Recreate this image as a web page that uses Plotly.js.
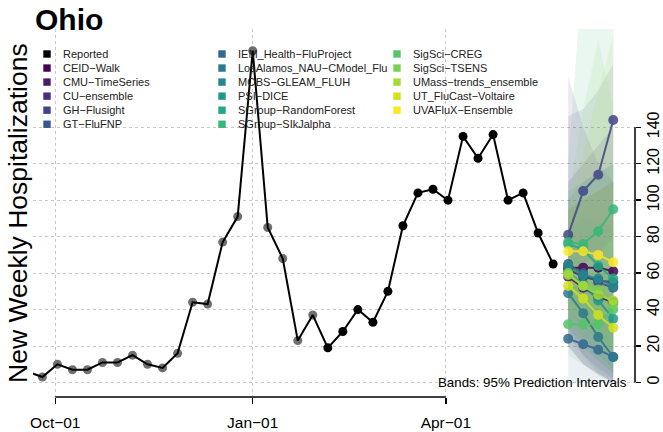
<!DOCTYPE html>
<html><head><meta charset="utf-8">
<script src="https://cdn.plot.ly/plotly-3.0.1.min.js"></script>
<style>html,body{margin:0;padding:0;background:#fff}#chart{width:663px;height:432px}</style>
</head><body><div id="chart"></div>
<script>
// ---------- DATA ----------
const reportedDates = ['2022-09-18','2022-09-25','2022-10-02','2022-10-09','2022-10-16','2022-10-23','2022-10-30',
  '2022-11-06','2022-11-13','2022-11-20','2022-11-27','2022-12-04','2022-12-11','2022-12-18','2022-12-25',
  '2023-01-01','2023-01-08','2023-01-15','2023-01-22','2023-01-29','2023-02-05','2023-02-12','2023-02-19',
  '2023-02-26','2023-03-05','2023-03-12','2023-03-19','2023-03-26','2023-04-02','2023-04-09','2023-04-16',
  '2023-04-23','2023-04-30','2023-05-07','2023-05-14','2023-05-21'];
const reportedValues = [6,3,10,7,7,11,11,15,10,8,16,44,43,77,91,182,85,68,23,37,19,28,40,33,50,86,104,106,100,135,123,136,100,104,82,65];
const firstRecentIndex = 20;

const forecastDates = ['2023-05-28','2023-06-04','2023-06-11','2023-06-18'];
const models = ['CEID\u2212Walk','CMU\u2212TimeSeries','CU\u2212ensemble','GH\u2212Flusight','GT\u2212FluFNP',
  'IEM_Health\u2212FluProject','LosAlamos_NAU\u2212CModel_Flu','MOBS\u2212GLEAM_FLUH','PSI\u2212DICE',
  'SGroup\u2212RandomForest','SGroup\u2212SIkJalpha','SigSci\u2212CREG','SigSci\u2212TSENS',
  'UMass\u2212trends_ensemble','UT_FluCast\u2212Voltaire','UVAFluX\u2212Ensemble'];
const modelColors = ['#440154','#481A6C','#472F7D','#414487','#39568C','#31688E','#2A788E','#23888E',
  '#1F988B','#22A884','#35B779','#54C568','#7AD151','#A5DB36','#D2E21B','#FDE725'];
const forecastMedian = [
  [63,63,63,61],[58,52,47,44],[62,58,56,55],[81,105,114,144],[65,60,55,52],
  [24,21,18,14],[49,38,25,14],[64,59,57,53],[60,54,45,35],[76,73,64,57],
  [77,76,83,95],[32,32,32,40],[60,53,51,43],[59,53,48,45],[53,46,37,30],[72,72,70,66]];
const forecastLower = [
  [20,10,4,0],[25,15,8,2],[20,10,5,0],[55,65,70,80],[30,20,12,5],
  [0,0,0,0],[30,15,5,0],[40,30,25,18],[35,25,15,8],[45,35,25,18],
  [50,40,35,30],[15,10,5,2],[30,20,12,5],[35,25,18,10],[40,32,24,18],[50,45,40,35]];
const forecastUpper = [
  [110,120,130,140],[95,100,105,110],[168,140,120,110],[146,150,160,175],[100,110,115,120],
  [55,60,60,60],[70,65,55,45],[95,100,105,110],[85,90,88,85],[105,110,115,120],
  [120,230,280,320],[50,60,70,85],[100,150,188,150],[95,125,160,190],[70,62,55,48],[95,100,105,110]];

const xTickVals = ['2022-10-01','2023-01-01','2023-04-01'];
const xTickText = ['Oct\u221201','Jan\u221201','Apr\u221201'];
const yTickVals = [0,20,40,60,80,100,120,140];

// ---------- LAYOUT GEOMETRY ----------
const W = 663, H = 432, mL = 33, mR = 28, mT = 29, mB = 35;
const pw = W - mL - mR, ph = H - mT - mB;
const px2paperX = p => (p - mL) / pw;
const px2paperY = p => (H - mB - p) / ph;
const dayMs = 864e5;
const jan = Date.UTC(2023,0,1);
const fmt = ms => new Date(ms).toISOString().replace('T',' ').replace('Z','');
const xRange = [fmt(jan - 102.38*dayMs), fmt(jan + 178.14*dayMs)];
const yRange = [-7.95, 193.9];

function rgba(hex, a){
  const n = parseInt(hex.slice(1),16);
  return 'rgba(' + (n>>16&255) + ',' + (n>>8&255) + ',' + (n&255) + ',' + a + ')';
}

const traces = [];
// bands
models.forEach((m,i)=>{
  traces.push({
    x: forecastDates.concat(forecastDates.slice().reverse()),
    y: forecastUpper[i].concat(forecastLower[i].slice().reverse()),
    type:'scatter', mode:'lines', fill:'toself', fillcolor: rgba(modelColors[i],0.105),
    line:{width:0}, hoverinfo:'skip', showlegend:false
  });
});
// reported points then line
traces.push({
  x: reportedDates, y: reportedValues, type:'scatter', mode:'markers', showlegend:false,
  marker:{size:9, color: reportedValues.map((v,i)=> i < firstRecentIndex ? '#6f6f6f' : '#000000')}
});
traces.push({
  x: reportedDates, y: reportedValues, type:'scatter', mode:'lines', showlegend:false,
  line:{color:'#000', width:2}
});
// model forecasts
models.forEach((m,i)=>{
  traces.push({
    x: forecastDates, y: forecastMedian[i], type:'scatter', mode:'lines+markers', name:m,
    showlegend:false, opacity:0.85,
    line:{color:modelColors[i], width:2}, marker:{color:modelColors[i], size:10}
  });
});

// manual legend (column-major, 6 rows)
const legendNames = ['Reported'].concat(models);
const legendColors = ['#000000'].concat(modelColors);
const colSquareX = [47, 222, 397];
const rowY0 = 54, rowDy = 14.05, sq = 7.4, textGap = 15;
const shapes = [];
const annotations = [];
legendNames.forEach((name,k)=>{
  const c = Math.floor(k/6), r = k%6;
  const cx = colSquareX[c], cy = rowY0 + r*rowDy;
  shapes.push({type:'rect', xref:'paper', yref:'paper',
    x0:px2paperX(cx-sq/2), x1:px2paperX(cx+sq/2), y0:px2paperY(cy+sq/2), y1:px2paperY(cy-sq/2),
    fillcolor:legendColors[k], line:{width:0}});
  annotations.push({xref:'paper', yref:'paper', x:px2paperX(cx+textGap), y:px2paperY(cy),
    xanchor:'left', yanchor:'middle', showarrow:false, text:name, borderpad:0,
    font:{family:'Liberation Sans, Arial, sans-serif', size:11, color:'#222'}});
});
// axis lines (R style, spanning first to last tick)
shapes.push({type:'line', xref:'x', yref:'paper', x0:xTickVals[0], x1:xTickVals[xTickVals.length-1], y0:0, y1:0,
  line:{color:'#000', width:1.5}});
shapes.push({type:'line', xref:'paper', yref:'y', x0:1, x1:1, y0:yTickVals[0], y1:yTickVals[yTickVals.length-1],
  line:{color:'#000', width:1.5}});

annotations.push({xref:'paper', yref:'paper', x:px2paperX(18), y:0.5, xanchor:'center', yanchor:'middle',
  textangle:-90, showarrow:false, text:'New Weekly Hospitalizations',
  font:{family:'Liberation Sans, Arial, sans-serif', size:26.5, color:'#000'}});
annotations.push({xref:'paper', yref:'paper', x:px2paperX(628), y:px2paperY(382), xanchor:'right', yanchor:'middle',
  showarrow:false, text:'Bands: 95% Prediction Intervals', borderpad:0,
  font:{family:'Liberation Sans, Arial, sans-serif', size:13.3, color:'#000'}});

const layout = {
  width:W, height:H, margin:{l:mL, r:mR, t:mT, b:mB, pad:0},
  paper_bgcolor:'#fff', plot_bgcolor:'#fff', showlegend:false,
  font:{family:'Liberation Sans, Arial, sans-serif', color:'#000'},
  title:{text:'<b>Ohio</b>', xref:'container', yref:'container', x:35/W, xanchor:'left',
    y:1-19.5/H, yanchor:'middle', font:{size:30, color:'#000', family:'Liberation Sans, Arial, sans-serif'}},
  xaxis:{type:'date', range:xRange, tickvals:xTickVals, ticktext:xTickText, ticks:'outside', ticklen:6,
    tickwidth:1.5, tickcolor:'#000', showline:false, zeroline:false, showgrid:true, gridcolor:'#c8c8c8',
    griddash:'dot', gridwidth:1, tickfont:{size:15.5}, ticklabelstandoff:5, fixedrange:true},
  yaxis:{range:yRange, side:'right', tickvals:yTickVals, ticks:'outside', ticklen:5, tickwidth:1.5,
    tickcolor:'#000', showline:false, zeroline:false, showgrid:true, gridcolor:'#c8c8c8', griddash:'dot',
    gridwidth:1, tickangle:-90, tickfont:{size:16}, ticklabelstandoff:-1, fixedrange:true},
  shapes:shapes, annotations:annotations
};
Plotly.newPlot('chart', traces, layout, {displayModeBar:false, staticPlot:true});
</script></body></html>
